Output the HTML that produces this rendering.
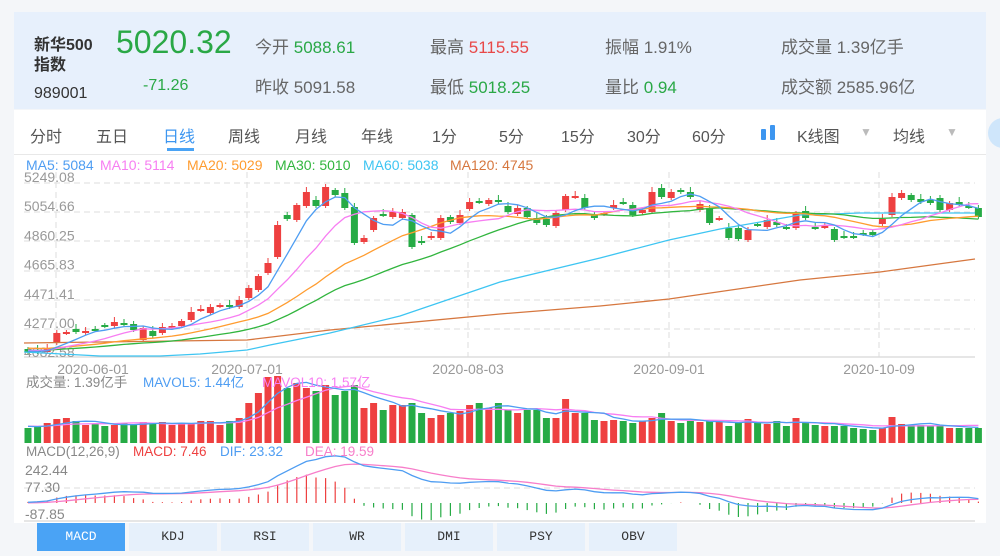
<!DOCTYPE html>
<html><head><meta charset="utf-8"><style>
body{margin:0;width:1000px;height:556px;background:#f4f6f9;font-family:"Liberation Sans","Noto Sans CJK SC",sans-serif;overflow:hidden;position:relative}
.a{position:absolute;white-space:nowrap}
#hdr{position:absolute;left:14px;top:12px;width:972px;height:97px;background:#e7f0fc}
#tabs{position:absolute;left:14px;top:110px;width:972px;height:44px;background:#fff;border-bottom:1px solid #e8e8e8}
#chart{position:absolute;left:14px;top:155px;width:972px;height:368px;background:#fff}
.l{color:#666;font-size:17px}
.t{font-size:16px;color:#555}
.bt{position:absolute;top:523px;height:28px;width:88px;background:#e6f0fb;color:#333;font-family:"Liberation Mono",monospace;font-size:13px;text-align:center;line-height:28px}
</style></head><body>
<div id="hdr"></div>
<div class="a" style="left:34px;top:31px;font-size:16px;color:#333;font-weight:bold">新华500</div>
<div class="a" style="left:34px;top:51px;font-size:16px;color:#333;font-weight:bold">指数</div>
<div class="a" style="left:34px;top:85px;font-size:16px;color:#333">989001</div>
<div class="a" style="left:116px;top:24px;font-size:32px;color:#2aa846">5020.32</div>
<div class="a" style="left:143px;top:77px;font-size:16px;color:#2aa846">-71.26</div>
<div class="a l" style="left:255px;top:33px">今开 <span style="color:#2aa846">5088.61</span></div>
<div class="a l" style="left:430px;top:33px">最高 <span style="color:#e84848">5115.55</span></div>
<div class="a l" style="left:605px;top:33px">振幅 1.91%</div>
<div class="a l" style="left:781px;top:33px">成交量 1.39亿手</div>
<div class="a l" style="left:255px;top:73px">昨收 5091.58</div>
<div class="a l" style="left:430px;top:73px">最低 <span style="color:#2aa846">5018.25</span></div>
<div class="a l" style="left:605px;top:73px">量比 <span style="color:#2aa846">0.94</span></div>
<div class="a l" style="left:781px;top:73px">成交额 2585.96亿</div>
<div id="tabs"></div>
<div class="a t" style="left:30px;top:123px">分时</div>
<div class="a t" style="left:96px;top:123px">五日</div>
<div class="a t" style="left:163px;top:123px;color:#3d96f0">日线</div>
<div class="a" style="left:167px;top:148px;width:27px;height:3px;background:#4aa3f5"></div>
<div class="a t" style="left:228px;top:123px">周线</div>
<div class="a t" style="left:295px;top:123px">月线</div>
<div class="a t" style="left:361px;top:123px">年线</div>
<div class="a t" style="left:432px;top:123px">1分</div>
<div class="a t" style="left:499px;top:123px">5分</div>
<div class="a t" style="left:561px;top:123px">15分</div>
<div class="a t" style="left:627px;top:123px">30分</div>
<div class="a t" style="left:692px;top:123px">60分</div>
<div class="a" style="left:761px;top:129px;width:5px;height:11px;background:#3d96f0;border-radius:1px"></div>
<div class="a" style="left:770px;top:125px;width:5px;height:15px;background:#3d96f0;border-radius:1px"></div>
<div class="a t" style="left:797px;top:123px">K线图</div>
<div class="a" style="left:860px;top:125px;font-size:12px;color:#bbb">▼</div>
<div class="a t" style="left:893px;top:123px">均线</div>
<div class="a" style="left:946px;top:125px;font-size:12px;color:#bbb">▼</div>
<div class="a" style="left:988px;top:118px;width:30px;height:30px;border-radius:15px;background:#cfe6fb"></div>
<div id="chart"></div>
<svg id="s" class="a" style="left:0;top:0" width="1000" height="556"></svg>
<div class="bt" style="left:37px;background:#4aa3f5;color:#fff">MACD</div>
<div class="bt" style="left:129px">KDJ</div>
<div class="bt" style="left:221px">RSI</div>
<div class="bt" style="left:313px">WR</div>
<div class="bt" style="left:405px">DMI</div>
<div class="bt" style="left:497px">PSY</div>
<div class="bt" style="left:589px">OBV</div>
<script>
var C=[[349,352],[350,352],[352,348],[343,333],[333,332],[329,332],[333,331],[329,330],[325,326],[326,322],[323,324],[324,330],[340,328],[331,336],[333,327],[327,326],[326,321],[320,312],[310,309],[313,307],[306,305],[305,307],[307,300],[298,288],[290,276],[273,263],[257,225],[215,219],[220,205],[206,192],[200,206],[206,187],[190,195],[193,208],[207,243],[242,238],[230,218],[214,215],[217,212],[218,212],[215,247],[241,243],[238,236],[238,218],[217,222],[223,215],[209,202],[201,202],[204,200],[200,202],[206,212],[214,208],[208,217],[218,223],[219,225],[226,213],[210,196],[197,196],[198,208],[215,218],[214,213],[208,205],[202,203],[205,215],[213,210],[212,192],[188,197],[198,192],[190,192],[192,197],[210,204],[208,223],[219,218],[228,238],[228,239],[240,230],[224,225],[227,220],[222,225],[227,228],[228,213],[211,218],[227,228],[227,226],[229,240],[236,237],[236,237],[233,234],[232,235],[224,219],[215,197],[198,193],[195,200],[199,202],[200,203],[198,210],[210,203],[202,205],[206,207],[208,217]];
var V=[15,16,20,24,25,22,18,19,17,18,20,18,21,20,21,18,19,20,22,22,18,22,25,40,50,66,67,55,60,55,52,58,48,52,58,35,40,33,38,38,40,30,25,28,30,32,38,40,35,40,33,30,33,33,25,25,44,30,30,23,22,23,22,20,22,25,30,22,20,22,21,23,21,17,20,24,20,19,22,17,25,20,18,17,17,17,15,14,13,15,26,19,18,18,17,18,15,15,15,15];
var s='',R='#ee4040',G='#26ab45';
function X(i){return 28+9.6*i}
[183,212,241,271,300,329].forEach(function(y){s+='<line x1="24" x2="975" y1="'+y+'" y2="'+y+'" stroke="#ddd" stroke-dasharray="6,4"/>'});
s+='<line x1="24" x2="975" y1="357" y2="357" stroke="#ccc"/>';
[56,247,468,669,879].forEach(function(x){s+='<line x1="'+x+'" x2="'+x+'" y1="172" y2="357" stroke="#ddd" stroke-dasharray="6,4"/>'});
var lb=['5249.08','5054.66','4860.25','4665.83','4471.41','4277.00','4082.58'];
lb.forEach(function(t,k){s+='<text x="24" y="'+(182+29.2*k)+'" font-size="14" fill="#999">'+t+'</text>'});
[['2020-06-01',93],['2020-07-01',247],['2020-08-03',468],['2020-09-01',669],['2020-10-09',879]].forEach(function(d){s+='<text x="'+d[1]+'" y="374" font-size="14" fill="#999" text-anchor="middle">'+d[0]+'</text>'});
var cl=C.map(function(c){return c[1]});
C.forEach(function(c,i){var o=c[0],k=c[1],col=k<=o?R:G,t=Math.min(o,k),b=Math.max(o,k),x=X(i);
var h=Math.abs(o-k)<2?2:b-t;
s+='<line x1="'+x+'" x2="'+x+'" y1="'+(t-2-(i*7%4))+'" y2="'+(b+2+(i*3%3))+'" stroke="'+col+'"/>';
s+='<rect x="'+(x-3.5)+'" y="'+t+'" width="7" height="'+h+'" fill="'+col+'"/>';});
function ma(arr,n,pre){var r=[];for(var i=0;i<arr.length;i++){var sm=0;for(var j=i-n+1;j<=i;j++)sm+=j<0?pre:arr[j];r.push(sm/n)}return r}
function pl(arr,col,f){var p=arr.map(function(v,i){return X(i).toFixed(1)+','+f(v).toFixed(1)}).join(' ');return '<polyline points="'+p+'" fill="none" stroke="'+col+'" stroke-width="1.3"/>'}
function id(v){return v}
function pts(a,col){return '<polyline points="'+a.join(' ')+'" fill="none" stroke="'+col+'" stroke-width="1.3"/>'}
s+=pts(['24,343','247,340','330,330','500,314','600,306','669,299','800,280','880,272','975,259'],'#d6773f');
s+=pts(['24,352','100,356','160,356','200,354','247,350','270,345','330,333','400,316','500,282','600,258','669,240','720,229','800,215','860,213','975,213'],'#3ec5f2');
s+=pl(ma(cl,30,350),'#31b53e',id);
s+=pl(ma(cl,20,348),'#ff9c2f',id);
s+=pl(ma(cl,10,350),'#f77ef2',id);
s+=pl(ma(cl,5,351),'#4e9df2',id);
s+='<rect x="20" y="156" width="560" height="16" fill="#fff" fill-opacity="0.6"/>';
[['MA5: 5084','#4e9df2',26],['MA10: 5114','#f77ef2',100],['MA20: 5029','#ff9c2f',187],['MA30: 5010','#31b53e',275],['MA60: 5038','#3ec5f2',363],['MA120: 4745','#d6773f',450]].forEach(function(m){s+='<text x="'+m[2]+'" y="170" font-size="14" fill="'+m[1]+'">'+m[0]+'</text>'});
V.forEach(function(v,i){var c=C[i];s+='<rect x="'+(X(i)-3.5)+'" y="'+(443-v)+'" width="7" height="'+v+'" fill="'+(c[1]<=c[0]?R:G)+'"/>'});
s+=pl(ma(V,10,17),'#f77ef2',function(v){return 443-v});
s+=pl(ma(V,5,17),'#4e9df2',function(v){return 443-v});
s+='<text x="26" y="387" font-size="13.5" fill="#888">成交量: 1.39亿手</text><text x="143" y="387" font-size="13.5" fill="#4e9df2">MAVOL5: 1.44亿</text><text x="262" y="387" font-size="13.5" fill="#f77ef2">MAVOL10: 1.57亿</text>';
var P=cl.map(function(y){return 5249.08-(y-183)/0.15019});
var e12=4080,e26=4080,dea=0,D=[],E=[],M=[];
P.forEach(function(p){e12=e12+(p-e12)*2/13;e26=e26+(p-e26)*2/27;var d=e12-e26;dea=dea+(d-dea)*2/10;D.push(d);E.push(dea);M.push(2*(d-dea))});
var sc=0.19,z=503;
s+='<line x1="24" x2="975" y1="488" y2="488" stroke="#ddd" stroke-dasharray="6,4"/>';
M.forEach(function(m,i){var y=z-m*sc;s+='<line x1="'+X(i)+'" x2="'+X(i)+'" y1="'+z+'" y2="'+y.toFixed(1)+'" stroke="'+(m>=0?R:G)+'" stroke-width="1.2"/>'});
s+=pl(E,'#f77eca',function(v){return z-v*sc});
s+=pl(D,'#4e9df2',function(v){return z-v*sc});
s+='<line x1="24" x2="975" y1="521" y2="521" stroke="#ccc"/>';
s+='<text x="25" y="475" font-size="14" fill="#888">242.44</text><text x="25" y="492" font-size="14" fill="#888">77.30</text><text x="25" y="519" font-size="14" fill="#888">-87.85</text>';
s+='<text x="26" y="456" font-size="13.5" fill="#888">MACD(12,26,9)</text><text x="133" y="456" font-size="13.5" fill="#ee4040">MACD: 7.46</text><text x="220" y="456" font-size="13.5" fill="#4e9df2">DIF: 23.32</text><text x="305" y="456" font-size="13.5" fill="#f77eca">DEA: 19.59</text>';
document.getElementById('s').innerHTML=s;
</script>
</body></html>
